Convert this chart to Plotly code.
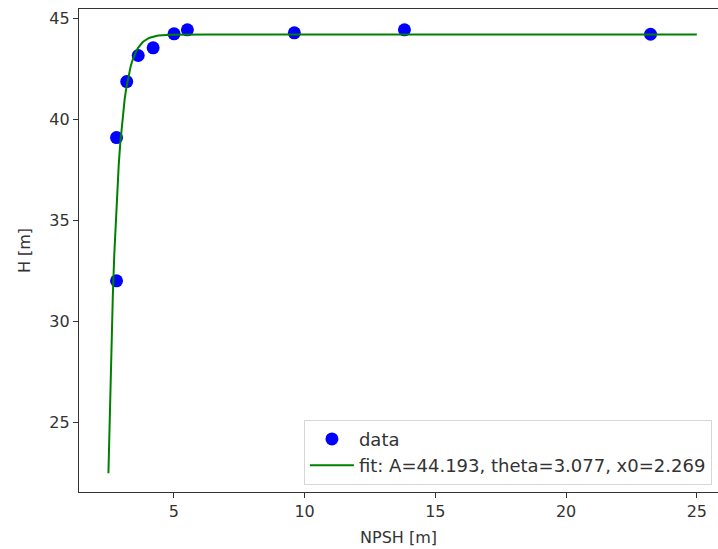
import numpy as np
import plotly.graph_objects as go

# Measured pump head H versus available NPSH
npsh = [2.81, 2.81, 3.20, 3.64, 4.21, 5.01, 5.52, 9.61, 13.82, 23.23]
head = [32.0, 39.09, 41.86, 43.15, 43.53, 44.22, 44.42, 44.27, 44.42, 44.20]

# Fitted parameters of H = A * (1 - exp(-theta * (NPSH - x0)))
A = 44.193
theta = 3.077
x0 = 2.269
fit_x = np.linspace(2.5, 25, 400)
fit_y = A * (1 - np.exp(-theta * (fit_x - x0)))

font = "DejaVu Sans, Liberation Sans, sans-serif"

fig = go.Figure()
fig.add_trace(go.Scatter(
    x=npsh, y=head, mode="markers", name="data", legendgroup="a",
    marker=dict(color="#0000ff", size=13, line=dict(width=0)),
))
fig.add_trace(go.Scatter(
    x=fit_x, y=fit_y, mode="lines", legendgroup="b",
    name=f"fit: A={A:.3f}, theta={theta:.3f}, x0={x0:.3f}",
    line=dict(color="#008000", width=2),
))

axis_common = dict(
    showgrid=False, zeroline=False,
    showline=True, linecolor="#333333", linewidth=1.2,
    ticks="outside", ticklen=5, tickwidth=1, tickcolor="#333333",
    tickfont=dict(family=font, size=16, color="#333333"),
)

fig.update_layout(
    width=718, height=549,
    margin=dict(l=79, r=0, t=9, b=57),
    paper_bgcolor="white", plot_bgcolor="white",
    font=dict(family=font, size=16, color="#333333"),
    xaxis=dict(
        range=[1.375, 25.81], tickvals=[5, 10, 15, 20, 25], mirror=True,
        title=dict(text="NPSH [m]", font=dict(family=font, size=16), standoff=11),
        **axis_common,
    ),
    yaxis=dict(
        range=[21.55, 45.45], tickvals=[25, 30, 35, 40, 45],
        title=dict(text="H [m]", font=dict(family=font, size=16), standoff=14),
        **axis_common,
    ),
    legend=dict(
        x=0.352, xanchor="left", y=0.015, yanchor="bottom",
        bgcolor="rgba(255,255,255,0.9)", bordercolor="#d6d6d6", borderwidth=1,
        font=dict(family=font, size=18, color="#333333"),
        traceorder="grouped", tracegroupgap=0, itemwidth=44,
    ),
    showlegend=True,
)

fig.write_html("out.html")
